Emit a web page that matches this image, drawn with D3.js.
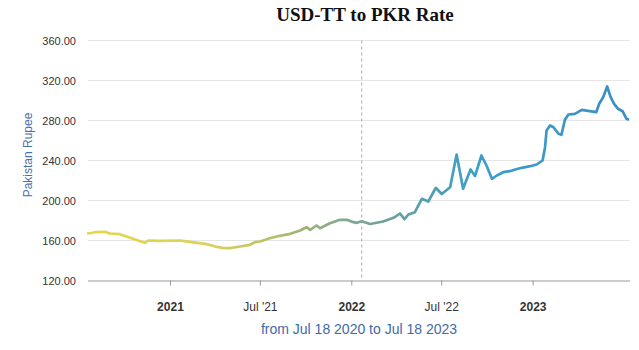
<!DOCTYPE html>
<html lang="en">

<head>
   <meta charset="UTF-8">
   <title>USD-TT to PKR Rate</title>
   <script src="https://d3js.org/d3.v7.min.js"></script>
   <style>
      body { margin: 0; background: #fff; }
   </style>
</head>

<body>
   <script>

      // weekly-ish readings of the rate
      const dates = [
         '2020-07-18', '2020-07-24', '2020-08-03', '2020-08-23', '2020-09-02', '2020-09-22', '2020-10-13',
         '2020-11-02', '2020-11-12', '2020-11-18', '2020-12-12', '2021-01-21', '2021-02-10', '2021-03-13',
         '2021-04-02', '2021-04-16', '2021-05-02', '2021-05-22', '2021-06-11', '2021-06-21', '2021-07-01',
         '2021-07-21', '2021-08-10', '2021-08-31', '2021-09-20', '2021-10-03', '2021-10-10', '2021-10-23',
         '2021-10-30', '2021-11-19', '2021-12-09', '2021-12-23', '2022-01-05', '2022-01-12', '2022-01-22',
         '2022-02-08', '2022-03-06', '2022-03-27', '2022-04-09', '2022-04-18', '2022-04-26', '2022-05-09',
         '2022-05-23', '2022-06-05', '2022-06-20', '2022-07-02', '2022-07-19', '2022-08-01', '2022-08-14',
         '2022-08-29', '2022-09-07', '2022-09-20', '2022-10-01', '2022-10-11', '2022-10-21', '2022-11-03',
         '2022-11-16', '2022-11-27', '2022-12-10', '2022-12-27', '2023-01-09', '2023-01-21', '2023-01-26',
         '2023-01-29', '2023-02-05', '2023-02-12', '2023-02-22', '2023-02-28', '2023-03-07', '2023-03-14',
         '2023-03-27', '2023-04-10', '2023-04-26', '2023-05-09', '2023-05-15', '2023-05-23', '2023-05-31',
         '2023-06-07', '2023-06-14', '2023-06-22', '2023-07-01', '2023-07-09', '2023-07-14'
      ];
      const rates = [
         167.0, 167.3, 168.3, 168.7, 167.0, 166.3, 162.7,
         159.3, 157.7, 160.0, 159.7, 160.0, 158.7, 156.7,
         154.0, 152.7, 152.3, 154.0, 155.7, 158.3, 159.0,
         162.3, 164.7, 166.7, 170.0, 173.3, 170.7, 175.0,
         172.3, 177.3, 180.7, 180.7, 178.3, 177.7, 179.3,
         176.5, 179.0, 182.7, 187.0, 181.3, 186.0, 188.3,
         201.7, 199.0, 212.7, 206.5, 213.3, 246.0, 211.7,
         231.0, 224.5, 245.0, 234.0, 221.7, 225.0, 228.3,
         229.3, 231.0, 232.7, 234.3, 236.0, 240.0, 253.3,
         270.0, 275.0, 273.3, 266.7, 265.7, 280.7, 286.0,
         286.7, 290.7, 289.3, 288.3, 296.7, 303.3, 314.0,
         303.3, 296.7, 291.7, 289.3, 281.7, 280.7
      ];

      const yTicks = [120, 160, 200, 240, 280, 320, 360];
      const xTicks = ['2021-01-01', '2021-07-01', '2022-01-01', '2022-07-01', '2023-01-01'];
      const xTickLabels = ['2021', "Jul '21", '2022', "Jul '22", '2023'];
      const markerDate = '2022-01-22';
      const rangeStart = '2020-07-18';
      const rangeEnd = '2023-07-18';

      const parse = d3.timeParse('%Y-%m-%d');
      const data = dates.map((d, i) => ({ date: parse(d), value: rates[i] }));

      const W = 639, H = 350;
      const svg = d3.select('body').append('svg').attr('width', W).attr('height', H)
         .style('font-family', '"Liberation Sans", Arial, sans-serif');

      const x = d3.scaleTime().domain([parse(rangeStart), parse(rangeEnd)]).range([87, 631]);
      const y = d3.scaleLinear().domain([120, 360]).range([280.5, 40.5]);

      // grid lines
      svg.append('g').selectAll('line')
         .data(yTicks.slice(1))
         .enter().append('line')
         .attr('x1', 88).attr('x2', 630)
         .attr('y1', d => y(d)).attr('y2', d => y(d))
         .attr('stroke', '#e6e6e6');

      // y labels
      svg.append('g').selectAll('text')
         .data(yTicks)
         .enter().append('text')
         .attr('x', 76).attr('y', d => y(d) + 4)
         .attr('text-anchor', 'end')
         .attr('font-size', 11)
         .attr('fill', '#333')
         .text(d => d3.format('.2f')(d));

      // x axis
      const xAxis = svg.append('g').attr('transform', `translate(0, ${y(120)})`)
         .call(d3.axisBottom(x)
            .tickValues(xTicks.map(parse))
            .tickSize(5)
            .tickFormat((d, i) => xTickLabels[i]));
      xAxis.select('.domain').attr('stroke', '#999').attr('d', 'M88,0.5H630');
      xAxis.selectAll('.tick line').attr('stroke', '#999');
      xAxis.selectAll('.tick text')
         .attr('y', 22)
         .attr('font-size', 12)
         .attr('font-family', '"Liberation Sans", Arial, sans-serif')
         .attr('fill', '#333')
         .attr('font-weight', (d, i) => xTickLabels[i].startsWith('Jul') ? 'normal' : 'bold');

      // dashed marker
      svg.append('line')
         .attr('x1', x(parse(markerDate))).attr('x2', x(parse(markerDate)))
         .attr('y1', y(360)).attr('y2', y(120))
         .attr('stroke', '#aaa')
         .attr('stroke-dasharray', '3,3');

      // colour ramp along the line
      const grad = svg.append('defs').append('linearGradient')
         .attr('id', 'ramp')
         .attr('gradientUnits', 'userSpaceOnUse')
         .attr('x1', 88).attr('x2', 630).attr('y1', 0).attr('y2', 0);
      [[0, '#e4d64c'], [0.2, '#dcd259'], [0.3, '#c9c762'], [0.38, '#a3b673'],
       [0.48, '#7fa890'], [0.55, '#6ea19a'], [0.65, '#4a9fb6'], [0.72, '#3c9fca'],
       [1, '#3b8ec4']].forEach(s => {
         grad.append('stop').attr('offset', s[0]).attr('stop-color', s[1]);
      });

      const line = d3.line().x(d => x(d.date)).y(d => y(d.value));
      svg.append('path')
         .datum(data)
         .attr('d', line)
         .attr('fill', 'none')
         .attr('stroke', 'url(#ramp)')
         .attr('stroke-width', 2.7)
         .attr('stroke-linejoin', 'round');

      // titles
      svg.append('text')
         .attr('x', 365).attr('y', 21)
         .attr('text-anchor', 'middle')
         .attr('font-family', '"Liberation Serif", "Times New Roman", serif')
         .attr('font-weight', 'bold')
         .attr('font-size', 19)
         .attr('fill', '#111')
         .text('USD-TT to PKR Rate');

      svg.append('text')
         .attr('transform', 'translate(32, 155) rotate(-90)')
         .attr('text-anchor', 'middle')
         .attr('font-size', 12)
         .attr('fill', '#4a6ea8')
         .text('Pakistan Rupee');

      svg.append('text')
         .attr('x', 359).attr('y', 334)
         .attr('text-anchor', 'middle')
         .attr('font-size', 14)
         .attr('fill', '#3f6aa8')
         .text('from Jul 18 2020 to Jul 18 2023');

   </script>
</body>

</html>
